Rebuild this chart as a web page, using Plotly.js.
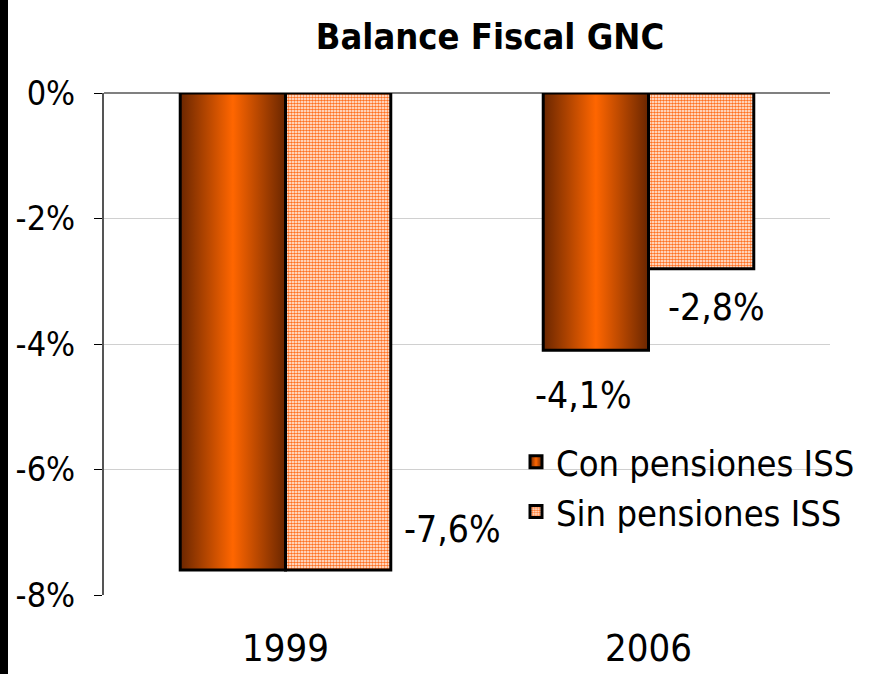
<!DOCTYPE html>
<html>
<head>
<meta charset="utf-8">
<script src="https://cdn.plot.ly/plotly-3.0.1.min.js"></script>
<style>
  body { margin: 0; background: #fff; }
  #chart { width: 874px; height: 674px; border-left: 8px solid #000; }
</style>
</head>
<body>
<div id="chart"></div>
<script>
const years = ["1999", "2006"];
const conPensiones = [-7.6, -4.1];
const sinPensiones = [-7.6, -2.8];
const seriesNames = ["Con pensiones ISS", "Sin pensiones ISS"];
const yTicks = [0, -2, -4, -6, -8];

const FONT = "DejaVu Sans Condensed";
const fmt = v => v.toFixed(1).replace(".", ",") + "%";

const traces = [
  { type: "bar", x: years, y: conPensiones, name: seriesNames[0],
    marker: { color: "#ff6600", line: { color: "#000", width: 3 } } },
  { type: "bar", x: years, y: sinPensiones, name: seriesNames[1],
    marker: { color: "#ffffff", line: { color: "#000", width: 3 },
      pattern: { shape: ".", fgcolor: "#ff7020", bgcolor: "#ffffff", size: 3, solidity: 0.6 } } },
];

// data labels: category, value, pixel nudge
const labels = [
  [years[0], sinPensiones[0], 167, 40],
  [years[1], conPensiones[1], -65, -45],
  [years[1], sinPensiones[1], 68, -39],
];

const layout = {
  width: 874,
  height: 674,
  margin: { l: 96, r: 52, t: 93, b: 79 },
  font: { family: FONT, color: "#000", size: 34 },
  title: { text: "<b>Balance Fiscal GNC</b>", font: { size: 36 }, x: 482 / 874, xanchor: "center", y: 1 - 36 / 674, yanchor: "middle" },
  barmode: "group",
  bargap: 0.42,
  bargroupgap: 0,
  legend: { x: 0.5675, y: 0.325, xanchor: "left", yanchor: "top",
    font: { size: 36 }, bgcolor: "rgba(0,0,0,0)" },
  xaxis: { tickvals: years, showgrid: false, zeroline: false, ticks: "", tickfont: { size: 38 }, ticklabelstandoff: 27 },
  yaxis: { range: [-8, 0], tickvals: yTicks, ticktext: yTicks.map(v => v + "%"), gridcolor: "#d0d0d0",
    zerolinecolor: "#808080", zerolinewidth: 2, showline: true, linecolor: "#555", linewidth: 2,
    ticks: "outside", ticklen: 8, tickcolor: "#000", tickfont: { size: 34 }, ticklabelstandoff: 12 },
  annotations: labels.map(([c, v, dx, dy]) => ({ x: c, y: v, text: fmt(v), showarrow: false, xshift: dx, yshift: dy, font: { size: 37 } })),
};

Plotly.newPlot("chart", traces, layout, { displayModeBar: false }).then(gd => {
  // horizontal dark-light-dark gradient on the first series, like the original
  const ns = "http://www.w3.org/2000/svg";
  const defs = gd.querySelector("svg.main-svg defs");
  const grad = document.createElementNS(ns, "linearGradient");
  grad.setAttribute("id", "conGrad");
  grad.setAttribute("x1", "0"); grad.setAttribute("x2", "1");
  grad.setAttribute("y1", "0"); grad.setAttribute("y2", "0");
  [["0", "#6a2600"], ["0.5", "#ff6600"], ["1", "#6a2600"]].forEach(([o, c]) => {
    const s = document.createElementNS(ns, "stop");
    s.setAttribute("offset", o); s.setAttribute("stop-color", c);
    grad.appendChild(s);
  });
  defs.appendChild(grad);
  const bars = gd.querySelectorAll(".barlayer .trace.bars");
  if (bars[0]) bars[0].querySelectorAll("path").forEach(p => { p.style.fill = "url(#conGrad)"; });
  const leg = gd.querySelectorAll(".legend .traces");
  if (leg[0]) leg[0].querySelectorAll(".legendpoints path").forEach(p => { p.style.fill = "url(#conGrad)"; });
});
</script>
</body>
</html>
